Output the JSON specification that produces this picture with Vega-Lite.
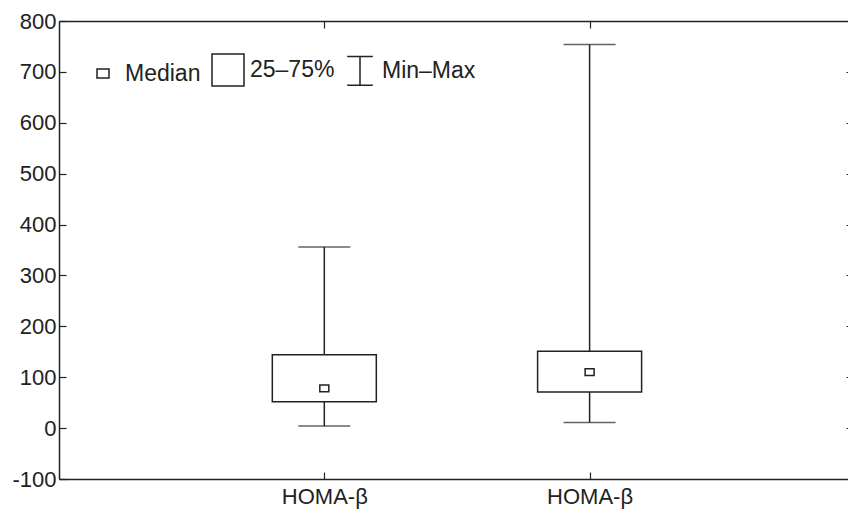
{
  "$schema": "https://vega.github.io/schema/vega-lite/v6.json",
  "width": 789,
  "height": 458,
  "autosize": {"type": "none"},
  "padding": {"left": 59, "top": 21, "right": 0, "bottom": 30},
  "background": "white",
  "config": {
    "font": "Liberation Sans",
    "view": {"stroke": null},
    "axis": {
      "labelFont": "Liberation Sans",
      "labelFontSize": 22,
      "labelColor": "#222",
      "domain": true,
      "domainColor": "#222",
      "domainWidth": 1.5,
      "grid": false,
      "tickColor": "#222",
      "tickWidth": 1.2,
      "tickSize": -7,
      "title": null
    },
    "legend": {
      "labelFont": "Liberation Sans",
      "labelFontSize": 23,
      "labelColor": "#222"
    }
  },
  "data": {
    "values": [
      {"group": "HOMA-β (1)", "label": "HOMA-β", "min": 4, "q1": 52, "median": 78, "q3": 144, "max": 356},
      {"group": "HOMA-β (2)", "label": "HOMA-β", "min": 11, "q1": 71, "median": 110, "q3": 151, "max": 754}
    ]
  },
  "encoding": {
    "x": {
      "field": "group",
      "type": "nominal",
      "sort": null,
      "scale": {"type": "point", "padding": 0.987, "align": 0.5066}
    }
  },
  "layer": [
    {
      "mark": {"type": "rule", "color": "#222", "strokeWidth": 1.5},
      "encoding": {
        "x": {"field": "group", "type": "nominal", "sort": null,
              "axis": {"orient": "bottom", "labelExpr": "'HOMA-β'", "labelPadding": 14, "labelAngle": 0}},
        "y": {"field": "min", "type": "quantitative",
              "scale": {"domain": [-100, 800], "nice": false, "zero": false},
              "axis": {"orient": "left", "values": [-100, 0, 100, 200, 300, 400, 500, 600, 700, 800],
                       "labelExpr": "toString(datum.value)", "labelPadding": 10}},
        "y2": {"field": "max"}
      }
    },
    {
      "mark": {"type": "tick", "color": "#222", "thickness": 1.5, "size": 52, "orient": "horizontal"},
      "encoding": {
        "x": {"field": "group", "type": "nominal", "sort": null,
              "axis": {"orient": "top", "labels": false}},
        "y": {"field": "min", "type": "quantitative",
              "axis": {"orient": "right", "labels": false, "domain": false, "tickSize": -2,
                       "values": [-100, 0, 100, 200, 300, 400, 500, 600, 700, 800]}}
      }
    },
    {
      "mark": {"type": "tick", "color": "#222", "thickness": 1.5, "size": 52, "orient": "horizontal"},
      "encoding": {
        "x": {"field": "group", "type": "nominal", "sort": null, "axis": null},
        "y": {"field": "max", "type": "quantitative", "axis": null}
      }
    },
    {
      "mark": {"type": "bar", "width": 104, "fill": "white", "stroke": "#222", "strokeWidth": 1.5},
      "encoding": {
        "x": {"field": "group", "type": "nominal", "sort": null, "axis": null},
        "y": {"field": "q1", "type": "quantitative", "axis": null},
        "y2": {"field": "q3"}
      }
    },
    {
      "mark": {"type": "point", "filled": false, "size": 576, "color": "#222", "strokeWidth": 1.5, "opacity": 1},
      "encoding": {
        "x": {"field": "group", "type": "nominal", "sort": null, "axis": null},
        "y": {"field": "median", "type": "quantitative", "axis": null},
        "shape": {
          "datum": "Median",
          "scale": {
            "domain": ["Median", "25–75%", "Min–Max"],
            "range": [
              "M-0.375,-0.28H0.375V0.28H-0.375Z",
              "M-1,-1H1V1H-1Z",
              "M-0.8,-0.9H0.8M0,-0.9V0.9M-0.8,0.9H0.8"
            ]
          },
          "legend": {
            "title": null,
            "orient": "none",
            "legendX": 27,
            "legendY": 32,
            "direction": "horizontal",
            "symbolSize": 1024,
            "symbolStrokeWidth": 1.5,
            "symbolStrokeColor": "#222",
            "symbolOpacity": 1,
            "columnPadding": 8,
            "labelOffset": 5,
            "padding": 0
          }
        }
      }
    }
  ],
  "resolve": {"axis": {"x": "independent", "y": "independent"}}
}
